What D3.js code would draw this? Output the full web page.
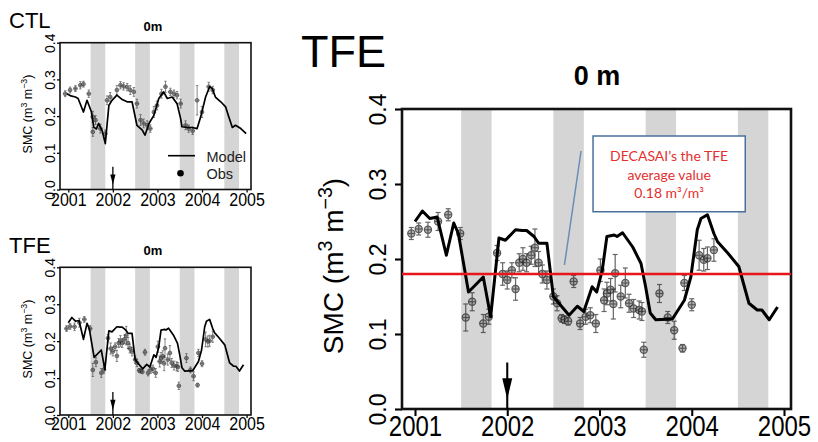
<!DOCTYPE html>
<html>
<head>
<meta charset="utf-8">
<script src="https://cdn.jsdelivr.net/npm/d3@7"></script>
<style>
  body { margin: 0; background: #fff; }
  svg { display: block; font-family: "Liberation Sans", Arial, sans-serif; }
</style>
</head>
<body>
<div id="chart"></div>
<script>
// ejes comunes
const yearTicks = [2001, 2002, 2003, 2004, 2005]
const smcTicks  = [0.0, 0.1, 0.2, 0.3, 0.4]
// estaciones secas (bandas grises)
const drySeasons = [[2001.5, 2001.83], [2002.5, 2002.83], [2003.5, 2003.83], [2004.5, 2004.83]]
const exclusionStart = 2002
const decasaiAvg = 0.18

// CTL modelo
const ctlModelYear = [2000.97, 2001.06, 2001.16, 2001.22, 2001.34, 2001.42, 2001.52, 2001.57, 2001.63, 2001.68,
  2001.76, 2001.83, 2001.91, 2001.98, 2002.09, 2002.21, 2002.32, 2002.43, 2002.54, 2002.66, 2002.72, 2002.81,
  2002.92, 2003.03, 2003.14, 2003.22, 2003.33, 2003.44, 2003.52, 2003.55, 2003.67, 2003.78, 2003.89, 2003.97,
  2004.08, 2004.17, 2004.23, 2004.30, 2004.42, 2004.53, 2004.60, 2004.68, 2004.75, 2004.87, 2004.99]
const ctlModelSmc = [0.261, 0.255, 0.252, 0.248, 0.211, 0.243, 0.211, 0.170, 0.165, 0.180,
  0.160, 0.125, 0.229, 0.243, 0.257, 0.245, 0.239, 0.239, 0.175, 0.162, 0.148, 0.180,
  0.202, 0.248, 0.266, 0.248, 0.252, 0.234, 0.193, 0.171, 0.169, 0.169, 0.166, 0.198,
  0.252, 0.280, 0.275, 0.252, 0.239, 0.225, 0.198, 0.169, 0.175, 0.166, 0.152]
// CTL observaciones
const ctlObsYear = [2000.93, 2001.04, 2001.16, 2001.27, 2001.34, 2001.46, 2001.55, 2001.55, 2001.61, 2001.72,
  2001.83, 2001.87, 2001.94, 2002.09, 2002.17, 2002.24, 2002.32, 2002.39, 2002.47, 2002.54, 2002.62, 2002.69,
  2002.77, 2002.84, 2002.92, 2002.99, 2003.09, 2003.18, 2003.29, 2003.37, 2003.44, 2003.52, 2003.63, 2003.70,
  2003.79, 2003.89, 2004.00, 2004.15, 2004.24]
const ctlObsSmc = [0.261, 0.271, 0.275, 0.284, 0.287, 0.261, 0.198, 0.157, 0.189, 0.166,
  0.152, 0.243, 0.252, 0.271, 0.284, 0.281, 0.279, 0.271, 0.266, 0.234, 0.189, 0.180,
  0.175, 0.166, 0.211, 0.229, 0.261, 0.280, 0.266, 0.261, 0.257, 0.234, 0.175, 0.166,
  0.160, 0.243, 0.211, 0.280, 0.271]
const ctlObsErr = [0.008, 0.008, 0.008, 0.010, 0.008, 0.010, 0.015, 0.012, 0.012, 0.012,
  0.010, 0.012, 0.012, 0.012, 0.010, 0.010, 0.010, 0.012, 0.012, 0.012, 0.015, 0.012,
  0.012, 0.010, 0.015, 0.012, 0.012, 0.015, 0.010, 0.010, 0.010, 0.012, 0.012, 0.010,
  0.010, 0.040, 0.015, 0.012, 0.010]

// TFE modelo
const tfeModelYear = [2001.00, 2001.08, 2001.16, 2001.24, 2001.34, 2001.42, 2001.47, 2001.58, 2001.74, 2001.82,
  2001.91, 2001.98, 2002.09, 2002.16, 2002.21, 2002.29, 2002.34, 2002.43, 2002.50, 2002.56, 2002.67, 2002.76,
  2002.83, 2002.92, 2002.97, 2003.03, 2003.08, 2003.16, 2003.19, 2003.25, 2003.36, 2003.45, 2003.50, 2003.55,
  2003.61, 2003.79, 2003.92, 2003.99, 2004.06, 2004.10, 2004.17, 2004.24, 2004.28, 2004.39, 2004.51, 2004.62,
  2004.71, 2004.76, 2004.84, 2004.93]
const tfeModelSmc = [0.250, 0.264, 0.254, 0.256, 0.205, 0.248, 0.234, 0.156, 0.176, 0.123,
  0.228, 0.225, 0.239, 0.238, 0.238, 0.230, 0.221, 0.221, 0.150, 0.141, 0.125, 0.137,
  0.130, 0.163, 0.156, 0.185, 0.230, 0.232, 0.230, 0.235, 0.216, 0.194, 0.163, 0.128,
  0.119, 0.120, 0.145, 0.176, 0.239, 0.254, 0.259, 0.234, 0.223, 0.208, 0.190, 0.141,
  0.132, 0.132, 0.119, 0.136]
// TFE observaciones
const tfeObsYear = [2000.96, 2001.04, 2001.14, 2001.25, 2001.36, 2001.49, 2001.55, 2001.62, 2001.74, 2001.80,
  2001.89, 2001.95, 2002.00, 2002.05, 2002.09, 2002.13, 2002.17, 2002.21, 2002.26, 2002.30, 2002.34, 2002.38,
  2002.43, 2002.50, 2002.54, 2002.59, 2002.62, 2002.66, 2002.72, 2002.79, 2002.85, 2002.90, 2002.96, 2003.01,
  2003.05, 2003.08, 2003.12, 2003.15, 2003.17, 2003.23, 2003.28, 2003.32, 2003.37, 2003.43, 2003.46, 2003.48,
  2003.65, 2003.74, 2003.81, 2003.90, 2003.92, 2004.00, 2004.08, 2004.13, 2004.17, 2004.24]
const tfeObsSmc = [0.234, 0.240, 0.239, 0.250, 0.259, 0.234, 0.122, 0.143, 0.114, 0.123,
  0.208, 0.180, 0.172, 0.185, 0.160, 0.195, 0.200, 0.195, 0.205, 0.215, 0.195, 0.180,
  0.172, 0.150, 0.141, 0.121, 0.119, 0.117, 0.170, 0.114, 0.123, 0.125, 0.114, 0.185,
  0.145, 0.154, 0.159, 0.140, 0.181, 0.150, 0.168, 0.141, 0.134, 0.132, 0.130, 0.079,
  0.154, 0.122, 0.105, 0.081, 0.168, 0.139, 0.205, 0.199, 0.201, 0.212]
const tfeObsErr = [0.008, 0.008, 0.010, 0.012, 0.008, 0.008, 0.018, 0.012, 0.012, 0.010,
  0.010, 0.015, 0.012, 0.010, 0.015, 0.012, 0.015, 0.012, 0.012, 0.025, 0.015, 0.012,
  0.012, 0.010, 0.010, 0.005, 0.005, 0.005, 0.008, 0.008, 0.010, 0.010, 0.012, 0.015,
  0.015, 0.015, 0.015, 0.020, 0.025, 0.015, 0.020, 0.012, 0.012, 0.012, 0.012, 0.010,
  0.012, 0.008, 0.012, 0.005, 0.010, 0.008, 0.020, 0.015, 0.015, 0.015]

const W = 818, H = 442
const svg = d3.select('#chart').append('svg').attr('width', W).attr('height', H)

function zip(xs, ys, es) {
  return xs.map((t, i) => ({ t: t, v: ys[i], e: es ? es[i] : 0 }))
}

function drawPanel(cfg, model, obs) {
  const x = d3.scaleLinear().domain([2001, 2005]).range([cfg.x2001, cfg.x2005])
  const y = d3.scaleLinear().domain([0, 0.4]).range([cfg.bottom, cfg.top])
  const g = svg.append('g')

  // bandas grises
  g.selectAll('.band')
    .data(drySeasons)
    .enter()
    .append('rect')
      .attr('x', d => x(d[0]))
      .attr('width', d => x(d[1]) - x(d[0]))
      .attr('y', cfg.top)
      .attr('height', cfg.bottom - cfg.top)
      .attr('fill', '#d5d5d5')

  // ejes
  const yAxis = g.append('g')
    .attr('transform', `translate(${cfg.left}, 0)`)
    .call(d3.axisLeft(y).tickValues(smcTicks).tickFormat(d3.format('.1f')).tickSize(cfg.tick).tickSizeOuter(0))
  yAxis.select('.domain').remove()
  yAxis.selectAll('line').attr('stroke', '#000').attr('stroke-width', cfg.frameW * 0.8)
  yAxis.selectAll('text')
    .attr('x', null).attr('dy', null).attr('y', 0)
    .attr('text-anchor', 'middle')
    .attr('transform', `translate(${-cfg.yLabOff}, 0) rotate(-90)`)
    .style('font-size', cfg.tickFont + 'px')
    .attr('fill', '#000')

  const xAxis = g.append('g')
    .attr('transform', `translate(0, ${cfg.bottom})`)
    .call(d3.axisBottom(x).tickValues(yearTicks).tickFormat(d3.format('d')).tickSize(cfg.tick).tickSizeOuter(0))
  xAxis.select('.domain').remove()
  xAxis.selectAll('line').attr('stroke', '#000').attr('stroke-width', cfg.frameW * 0.8)
  xAxis.selectAll('text')
    .attr('y', 0).attr('dy', null)
    .attr('transform', `translate(0, ${cfg.xLabBase}) scale(1, ${cfg.xLabStretch})`)
    .style('font-size', cfg.xFont + 'px')
    .attr('fill', '#000')

  // marco
  g.append('rect')
    .attr('x', cfg.left)
    .attr('y', cfg.top)
    .attr('width', cfg.right - cfg.left)
    .attr('height', cfg.bottom - cfg.top)
    .attr('fill', 'none')
    .attr('stroke', '#111')
    .attr('stroke-width', cfg.frameW)

  // observaciones con barras de error
  const o = g.selectAll('.obs')
    .data(obs)
    .enter()
    .append('g')
      .attr('opacity', 0.75)
  o.append('line')
    .attr('x1', d => x(d.t)).attr('x2', d => x(d.t))
    .attr('y1', d => y(d.v - d.e)).attr('y2', d => y(d.v + d.e))
    .attr('stroke', '#333').attr('stroke-width', cfg.obsW)
  o.append('line')
    .attr('x1', d => x(d.t) - cfg.cap).attr('x2', d => x(d.t) + cfg.cap)
    .attr('y1', d => y(d.v + d.e)).attr('y2', d => y(d.v + d.e))
    .attr('stroke', '#333').attr('stroke-width', cfg.obsW)
  o.append('line')
    .attr('x1', d => x(d.t) - cfg.cap).attr('x2', d => x(d.t) + cfg.cap)
    .attr('y1', d => y(d.v - d.e)).attr('y2', d => y(d.v - d.e))
    .attr('stroke', '#333').attr('stroke-width', cfg.obsW)
  o.append('circle')
    .attr('cx', d => x(d.t))
    .attr('cy', d => y(d.v))
    .attr('r', cfg.obsR)
    .attr('fill', '#9a9a9a')
    .attr('stroke', '#222')
    .attr('stroke-width', cfg.obsW)
  // cruz interior
  o.append('line')
    .attr('x1', d => x(d.t) - cfg.obsR).attr('x2', d => x(d.t) + cfg.obsR)
    .attr('y1', d => y(d.v)).attr('y2', d => y(d.v))
    .attr('stroke', '#222').attr('stroke-width', cfg.obsW)
  o.append('line')
    .attr('x1', d => x(d.t)).attr('x2', d => x(d.t))
    .attr('y1', d => y(d.v) - cfg.obsR).attr('y2', d => y(d.v) + cfg.obsR)
    .attr('stroke', '#222').attr('stroke-width', cfg.obsW)

  // linea del modelo
  const linea = d3.line().x(d => x(d.t)).y(d => y(d.v))
  g.append('path')
    .attr('d', linea(model))
    .attr('fill', 'none')
    .attr('stroke', '#000')
    .attr('stroke-width', cfg.lineW)
    .attr('stroke-linejoin', 'round')

  // flecha 2002
  const ax = x(exclusionStart)
  g.append('line')
    .attr('x1', ax).attr('x2', ax)
    .attr('y1', y(0.062)).attr('y2', y(0))
    .attr('stroke', '#000').attr('stroke-width', cfg.frameW * 0.8)
  g.append('path')
    .attr('d', `M${ax - cfg.head},${y(0.041)}L${ax + cfg.head},${y(0.041)}L${ax},${y(0.013)}Z`)
    .attr('fill', '#000')

  // titulos
  g.append('text')
    .attr('x', cfg.nameX).attr('y', cfg.nameY)
    .style('font-size', cfg.nameFont + 'px')
    .text(cfg.name)
  g.append('text')
    .attr('x', cfg.depthX).attr('y', cfg.depthY)
    .attr('text-anchor', 'middle')
    .style('font-size', cfg.depthFont + 'px')
    .style('font-weight', 'bold')
    .text(cfg.depth)

  const yt = g.append('text')
    .attr('transform', `translate(${cfg.yTitleX}, ${cfg.yTitleY}) rotate(-90)`)
    .attr('text-anchor', 'middle')
    .style('font-size', cfg.yTitleFont + 'px')
  yt.append('tspan').text('SMC (m')
  yt.append('tspan').attr('dy', -cfg.yTitleFont * 0.4).style('font-size', (cfg.yTitleFont * 0.7) + 'px').text('3')
  yt.append('tspan').attr('dy', cfg.yTitleFont * 0.4).text(' m')
  yt.append('tspan').attr('dy', -cfg.yTitleFont * 0.4).style('font-size', (cfg.yTitleFont * 0.7) + 'px').text('\u22123')
  yt.append('tspan').attr('dy', cfg.yTitleFont * 0.4).text(')')

  return { g: g, x: x, y: y }
}

const small = {
  left: 60, right: 251, x2001: 68.3, x2005: 246.6,
  tick: 3, frameW: 1.6, lineW: 1.7, obsR: 1.9, obsW: 0.8, cap: 1.2, head: 2.6,
  tickFont: 14, yLabOff: 5, xFont: 16, xLabStretch: 1.1,
  nameX: 9, nameFont: 22, depthX: 153, depthFont: 13, depth: '0m',
  yTitleX: 32, yTitleFont: 12.5
}

const ctl = drawPanel(Object.assign({}, small, {
  top: 42.7, bottom: 189.5, xLabBase: 16,
  name: 'CTL', nameY: 28, depthY: 31, yTitleY: 114
}), zip(ctlModelYear, ctlModelSmc), zip(ctlObsYear, ctlObsSmc, ctlObsErr))

drawPanel(Object.assign({}, small, {
  top: 267.3, bottom: 415, xLabBase: 15,
  name: 'TFE', nameY: 253, depthY: 255, yTitleY: 339
}), zip(tfeModelYear, tfeModelSmc), zip(tfeObsYear, tfeObsSmc, tfeObsErr))

// leyenda en CTL
ctl.g.append('line')
  .attr('x1', 168).attr('x2', 195).attr('y1', 155.7).attr('y2', 155.7)
  .attr('stroke', '#000').attr('stroke-width', 1.6)
ctl.g.append('circle')
  .attr('cx', 180.5).attr('cy', 173.3).attr('r', 3.3).attr('fill', '#000')
ctl.g.append('text').attr('x', 206.5).attr('y', 161.5).style('font-size', '14.5px').attr('fill', '#222').text('Model')
ctl.g.append('text').attr('x', 206.5).attr('y', 178.5).style('font-size', '14.5px').attr('fill', '#222').text('Obs')

// panel grande TFE
const big = drawPanel({
  left: 402, right: 791, top: 109, bottom: 409, x2001: 415, x2005: 784,
  tick: 7, frameW: 2.6, lineW: 3, obsR: 3.6, obsW: 1.2, cap: 2.5, head: 5,
  tickFont: 23, yLabOff: 16, xFont: 24, xLabStretch: 1.2, xLabBase: 26.5,
  name: 'TFE', nameX: 301, nameY: 67, nameFont: 45,
  depth: '0 m', depthX: 597, depthY: 85, depthFont: 27,
  yTitleX: 343, yTitleY: 266, yTitleFont: 28
}, zip(tfeModelYear, tfeModelSmc), zip(tfeObsYear, tfeObsSmc, tfeObsErr))

// promedio DECASAI
big.g.append('line')
  .attr('x1', 402).attr('x2', 791)
  .attr('y1', big.y(decasaiAvg)).attr('y2', big.y(decasaiAvg))
  .attr('stroke', '#e8161b').attr('stroke-width', 2.6)

// anotacion
big.g.append('line')
  .attr('x1', big.x(2002.80)).attr('y1', big.y(0.344))
  .attr('x2', big.x(2002.62)).attr('y2', big.y(0.192))
  .attr('stroke', '#6a8db5').attr('stroke-width', 1.5)
big.g.append('rect')
  .attr('x', big.x(2002.93)).attr('y', big.y(0.364))
  .attr('width', big.x(2004.58) - big.x(2002.93))
  .attr('height', big.y(0.263) - big.y(0.364))
  .attr('fill', '#fff')
  .attr('stroke', '#4a6f9c')
  .attr('stroke-width', 1.5)
const nota = ['DECASAI\u2019s the TFE', 'average value', '0.18 m\u00b3/m\u00b3']
big.g.selectAll('.nota')
  .data(nota)
  .enter()
  .append('text')
    .attr('x', (big.x(2002.93) + big.x(2004.58)) / 2)
    .attr('y', (d, i) => 161 + i * 18.5)
    .attr('text-anchor', 'middle')
    .style('font-family', 'Lato, "Open Sans", sans-serif')
    .style('font-size', '14px')
    .attr('fill', '#e3302f')
    .text(d => d)
</script>
</body>
</html>
